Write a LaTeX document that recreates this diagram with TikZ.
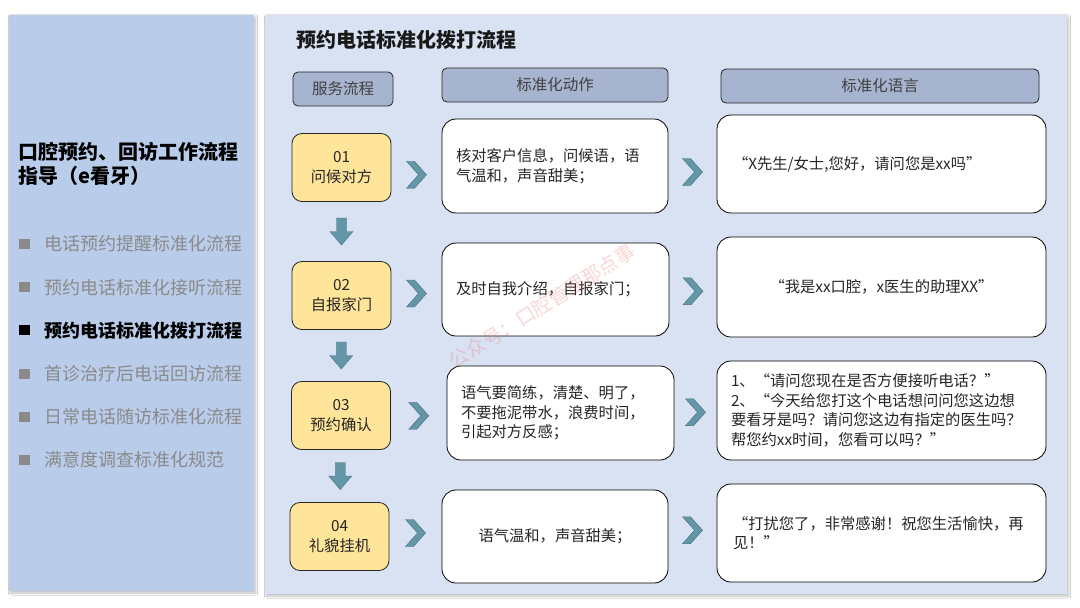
\documentclass[tikz,border=0pt]{standalone}
\usepackage{fontspec}
\setmainfont{Noto Sans CJK SC}
\usetikzlibrary{calc,shadows.blur}
\definecolor{leftbg}{RGB}{185,204,234}
\definecolor{rightbg}{RGB}{217,226,243}
\definecolor{hdrfill}{RGB}{167,180,207}
\definecolor{yel}{RGB}{255,229,153}
\definecolor{tealc}{RGB}{99,150,166}
\definecolor{tealdark}{RGB}{70,110,125}
\definecolor{graytxt}{RGB}{138,138,138}
\definecolor{wmark}{RGB}{235,110,110}
\tikzset{
  x=1pt, y=-1pt,
  panel/.style={draw=none, blur shadow={shadow xshift=1.5pt, shadow yshift=-2pt, shadow blur steps=6, shadow opacity=25}},
  hdr/.style={draw=black!85, fill=hdrfill, rounded corners=5pt, line width=0.8pt, inner sep=0pt,
    font=\fontsize{15.5pt}{19pt}\selectfont, text=black!75},
  ybox/.style={draw=black!85, fill=yel, rounded corners=10pt, line width=0.8pt, inner sep=0pt, align=center,
    minimum width=99pt, minimum height=68pt, font=\fontsize{15.3pt}{20pt}\selectfont, text=black!85},
  wbox/.style={draw=black, fill=white, rounded corners=14pt, line width=0.8pt, inner ysep=0pt,
    font=\fontsize{15.3pt}{19.5pt}\selectfont, text=black!85},
  litem/.style={anchor=west, inner sep=0pt, font=\fontsize{18pt}{22pt}\selectfont, text=graytxt},
  lsq/.style={fill=graytxt, minimum width=11pt, minimum height=10pt, inner sep=0pt},
  chev/.pic={\draw[draw=tealdark, line width=0.4pt, fill=tealc] (-10,-13.5) -- (-2,-13.5) -- (10,0) -- (-2,13.5) -- (-10,13.5) -- (2,0) -- cycle;},
  darrow/.pic={\draw[draw=tealdark, line width=0.4pt, fill=tealc] (-5,-13.5) -- (5,-13.5) -- (5,0) -- (11.5,0) -- (0,13.5) -- (-11.5,0) -- (-5,0) -- cycle;},
}
\begin{document}
\begin{tikzpicture}
\useasboundingbox[fill=white] (0,0) rectangle (1080,608);
% panels
\fill[leftbg, panel] (9,15) rectangle (254,591);
\fill[rightbg, panel] (265,15) rectangle (1067,594);

% left column
\node[anchor=west, inner sep=0pt, align=left, font=\bfseries\fontsize{20pt}{24pt}\selectfont, text=black] (ltitle) at (18,164) {口腔预约、回访工作流程\\指导（e看牙）};
\foreach \i/\t [count=\n] in {1/电话预约提醒标准化流程, 2/预约电话标准化接听流程, 4/首诊治疗后电话回访流程, 5/日常电话随访标准化流程, 6/满意度调查标准化规范}{
  \pgfmathsetmacro{\yy}{244+(\i-1)*43.2}
  \node[lsq] (sq\i) at (24.5,\yy) {};
  \node[litem] (li\i) at (44,\yy) {\t};
}
\node[lsq, fill=black] (sq3) at (24.5,330.4) {};
\node[litem, text=black, font=\bfseries\fontsize{18pt}{22pt}\selectfont] (li3) at (44,330.4) {预约电话标准化拨打流程};

% title
\node[anchor=west, inner sep=0pt, font=\bfseries\fontsize{20pt}{24pt}\selectfont, text=black!90] (title) at (296,40) {预约电话标准化拨打流程};

% headers
\node[hdr, minimum width=100pt, minimum height=34pt] (h1) at (343,89) {服务流程};
\node[hdr, minimum width=226pt, minimum height=34pt] (h2) at (555,85) {标准化动作};
\node[hdr, minimum width=318pt, minimum height=34pt] (h3) at (880,86) {标准化语言};

% yellow steps
\node[ybox] (y1) at (341.5,167.5) {01\\问候对方};
\node[ybox] (y2) at (341.5,295.5) {02\\自报家门};
\node[ybox] (y3) at (341,415.5) {03\\预约确认};
\node[ybox] (y4) at (339.5,536.5) {04\\礼貌挂机};

% action boxes
\node[wbox, inner xsep=14pt, text width=198pt, minimum height=94pt, align=left] (a1) at (555,166) {核对客户信息，问候语，语\\气温和，声音甜美；};
\node[wbox, inner xsep=14pt, text width=199pt, minimum height=93pt, align=left] (a2) at (555.5,289.5) {及时自我介绍，自报家门；};
\node[wbox, inner xsep=14pt, text width=199pt, minimum height=94pt, align=left] (a3) at (560.5,413) {语气要简练，清楚、明了，\\不要拖泥带水，浪费时间，\\引起对方反感；};
\node[wbox, inner xsep=14pt, text width=198pt, minimum height=93pt, align=center] (a4) at (555,536.5) {语气温和，声音甜美；};

% language boxes
\node[wbox, inner xsep=16pt, text width=297pt, minimum height=98pt, align=left] (l1) at (881.5,164) {“X先生/女士,您好，请问您是xx吗”};
\node[wbox, inner xsep=16pt, text width=297pt, minimum height=100pt, align=center] (l2) at (881.5,287) {“我是xx口腔，x医生的助理XX”};
\node[wbox, inner xsep=14pt, text width=301pt, minimum height=99pt, align=left] (l3) at (881.5,410.5) {1、“请问您现在是否方便接听电话？”\\2、“今天给您打这个电话想问问您这边想\\要看牙是吗？请问您这边有指定的医生吗？\\帮您约xx时间，您看可以吗？”};
\node[wbox, inner xsep=16pt, text width=297pt, minimum height=98pt, align=left] (l4) at (881.5,533) {“打扰您了，非常感谢！祝您生活愉快，再\\见！”};

% chevrons
\foreach \r/\da/\db in {1/8/7, 2/1/3, 3/1.5/0.5, 4/-3.5/-4.5}{
  \pic at ($(y\r.east)!0.5!(a\r.west) + (0,\da)$) {chev};
  \pic at ($(a\r.east)!0.5!(l\r.west) + (0,\db)$) {chev};
}
% down arrows
\pic at ($(y1.south)!0.5!(y2.north)$) {darrow};
\pic at ($(y2.south)!0.5!(y3.north)$) {darrow};
\pic at ($(y3.south)!0.5!(y4.north)$) {darrow};

% watermark
\node[rotate=32, text=wmark, opacity=0.28, inner sep=0pt, font=\fontsize{19.5pt}{21pt}\selectfont] (wm) at (542,306) {公众号：口腔管理那点事};
\end{tikzpicture}
\end{document}
